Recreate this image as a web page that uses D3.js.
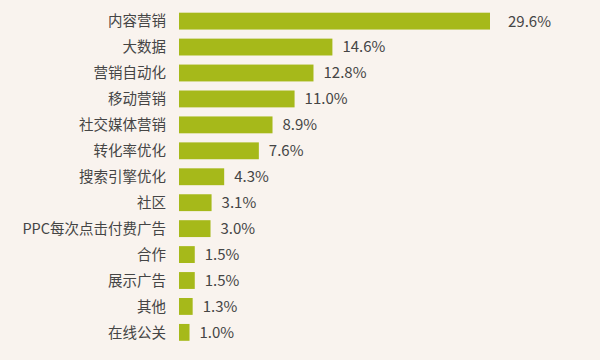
<!DOCTYPE html>
<html><head><meta charset="utf-8">
<script src="https://cdn.jsdelivr.net/npm/d3@7"></script>
<style>html,body{margin:0;padding:0;background:#f9f3ee;}svg{display:block;}</style>
</head><body>
<svg id="chart" width="600" height="360"></svg>
<script>
const categories = ["内容营销","大数据","营销自动化","移动营销","社交媒体营销","转化率优化","搜索引擎优化","社区","PPC每次点击付费广告","合作","展示广告","其他","在线公关"];
const values = [29.6,14.6,12.8,11.0,8.9,7.6,4.3,3.1,3.0,1.5,1.5,1.3,1.0];
const valueLabels = ["29.6%","14.6%","12.8%","11.0%","8.9%","7.6%","4.3%","3.1%","3.0%","1.5%","1.5%","1.3%","1.0%"];

const svg = d3.select("#chart");
svg.append("rect").attr("width",600).attr("height",360).attr("fill","#f9f3ee");

const x0 = 179;
const x = d3.scaleLinear().domain([0, 29.6]).range([x0, 490]);
const y = d3.scaleBand().domain(categories).range([7.5, 346]).paddingInner(0.35).paddingOuter(0.2);

const font = "'Noto Sans CJK SC','Noto Sans',sans-serif";

svg.append("g").selectAll("rect").data(values).join("rect")
  .attr("x", x0)
  .attr("y", (d,i) => y(categories[i]))
  .attr("width", d => x(d) - x0)
  .attr("height", y.bandwidth())
  .attr("fill", "#a6b91a");

svg.append("g").selectAll("text").data(categories).join("text")
  .attr("x", 166)
  .attr("y", d => y(d) + y.bandwidth()/2)
  .attr("dy", "0.36em")
  .attr("text-anchor", "end")
  .attr("font-family", font)
  .attr("font-size", 14.5)
  .attr("fill", "#454545")
  .text(d => d);

svg.append("g").selectAll("text").data(values).join("text")
  .attr("x", (d,i) => x(d) + (i === 0 ? 18 : 10))
  .attr("y", (d,i) => y(categories[i]) + y.bandwidth()/2)
  .attr("dy", "0.36em")
  .attr("font-family", font)
  .attr("font-size", 15)
  .attr("fill", "#454545")
  .text((d,i) => valueLabels[i]);
</script>
</body></html>
